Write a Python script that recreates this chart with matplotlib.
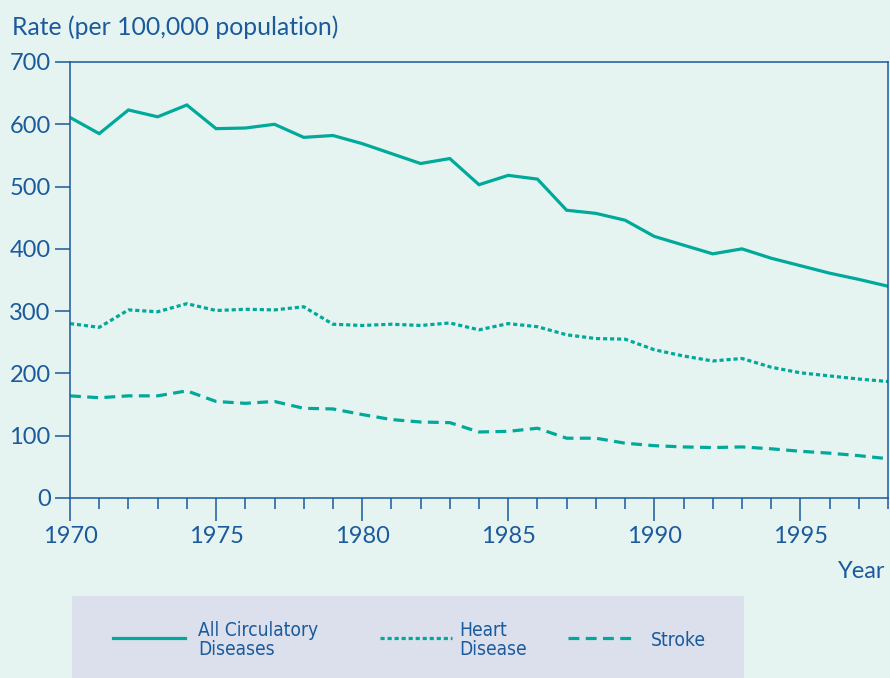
import matplotlib
matplotlib.use('Agg')
import matplotlib.pyplot as plt
from matplotlib.ticker import MultipleLocator

# Data (rate per 100,000 population)
years = list(range(1970, 1999))
all_circulatory = [611, 585, 623, 612, 631, 593, 594, 600, 579, 582,
                   569, 553, 537, 545, 503, 518, 512, 462, 457, 446,
                   420, 406, 392, 400, 385, 373, 361, 351, 340]
heart_disease = [280, 274, 302, 299, 312, 301, 303, 302, 307, 279,
                 277, 279, 277, 281, 270, 280, 275, 262, 256, 255,
                 238, 228, 220, 224, 210, 201, 196, 191, 187]
stroke = [164, 161, 164, 164, 172, 155, 152, 155, 144, 143,
          134, 126, 122, 121, 106, 107, 112, 96, 96, 88,
          84, 82, 81, 82, 79, 75, 72, 68, 63]

series_names = ['All Circulatory\nDiseases', 'Heart\nDisease', 'Stroke']

bg = '#E6F4F1'
teal = '#00A99A'
blue = '#1B5A9C'
legend_bg = '#DCE0ED'
styles = ['-', (0, (1.3, 0.9)), (0, (3.4, 2.0))]

plt.rcParams['font.family'] = ['Lato', 'DejaVu Sans']

W, H = 890, 678
fig = plt.figure(figsize=(W / 100, H / 100), dpi=100, facecolor=bg)
ax = fig.add_axes([70 / W, 1 - 498 / H, 818 / W, 436 / H])
ax.set_facecolor(bg)

for vals, ls in zip([all_circulatory, heart_disease, stroke], styles):
    ax.plot(years, vals, color=teal, lw=2.3, linestyle=ls,
            solid_joinstyle='miter', dash_capstyle='butt')

ax.set_xlim(1970, 1998)
ax.set_ylim(0, 700)
ax.xaxis.set_major_locator(MultipleLocator(5))
ax.xaxis.set_minor_locator(MultipleLocator(1))
ax.yaxis.set_major_locator(MultipleLocator(100))

for s in ax.spines.values():
    s.set_color(blue)
    s.set_linewidth(1.1)

ax.tick_params(axis='x', which='major', length=16.5, width=1.1, color=blue,
               labelcolor=blue, labelsize=17, pad=4)
ax.tick_params(axis='x', which='minor', length=8, width=1.1, color=blue)
ax.tick_params(axis='y', which='major', length=11, width=1.1, color=blue,
               labelcolor=blue, labelsize=17, pad=3)

fig.text(12 / W, 1 - 27 / H, 'Rate (per 100,000 population)', color=blue,
         fontsize=17.8, va='center', ha='left')
fig.text(885 / W, 1 - 572 / H, 'Year', color=blue, fontsize=17,
         va='center', ha='right')

# legend panel
lax = fig.add_axes([72 / W, 0, 672 / W, 82 / H])
lax.set_facecolor(legend_bg)
lax.set_xlim(0, 672)
lax.set_ylim(0, 82)
lax.set_axis_off()
lax.add_patch(plt.Rectangle((0, 0), 672, 82, color=legend_bg, zorder=0))

line_x = [(41, 113), (308, 380), (496, 565)]
text_x = [126, 387, 579]
for (x0, x1), tx, ls, name in zip(line_x, text_x, styles, series_names):
    lax.plot([x0, x1], [40, 40], color=teal, lw=2.3, linestyle=ls,
             dash_capstyle='butt')
    lax.text(tx, 38, name, color=blue, fontsize=13.8, va='center', ha='left',
             family=['DejaVu Sans'], fontstretch='condensed', linespacing=0.95)

fig.savefig('out.png', dpi=100, facecolor=bg)
